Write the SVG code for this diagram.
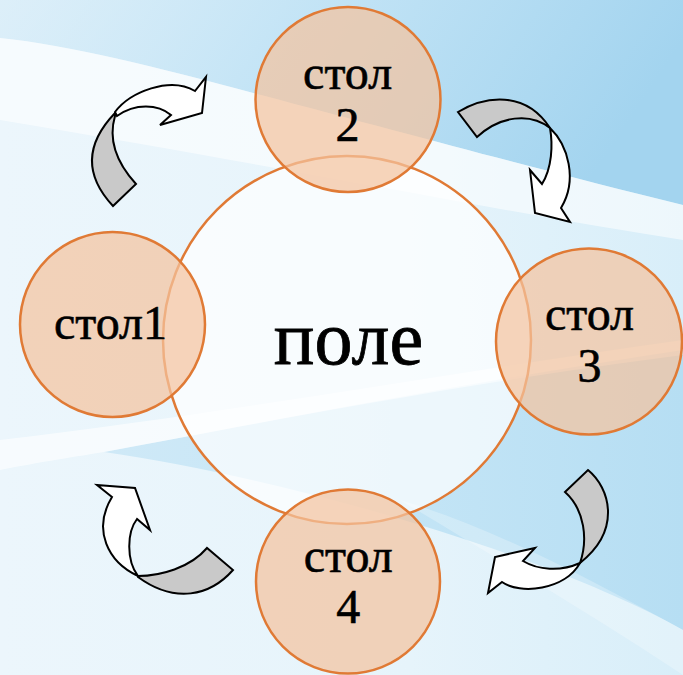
<svg xmlns="http://www.w3.org/2000/svg" width="683" height="675" viewBox="0 0 683 675">
  <defs>
    <linearGradient id="bg" x1="0" y1="0" x2="1" y2="0">
      <stop offset="0" stop-color="#ecf6fc"/>
      <stop offset="0.6" stop-color="#e6f4fb"/>
      <stop offset="1" stop-color="#d8eef9"/>
    </linearGradient>
    <linearGradient id="topblue" x1="0" y1="0" x2="1" y2="0.2">
      <stop offset="0" stop-color="#d2eaf7" stop-opacity="0.6"/>
      <stop offset="0.45" stop-color="#bfe2f5" stop-opacity="0.9"/>
      <stop offset="1" stop-color="#a3d4ef"/>
    </linearGradient>
    <linearGradient id="wedge" x1="0" y1="0" x2="1" y2="0">
      <stop offset="0" stop-color="#cfe9f7"/>
      <stop offset="0.5" stop-color="#c4e5f6"/>
      <stop offset="1" stop-color="#b6def3"/>
    </linearGradient>
  </defs>
  <style>
    .tbl { fill: #f4c3a0; fill-opacity: 0.72; stroke: #e07a35; stroke-width: 2.5; }
    .field { fill: #ffffff; fill-opacity: 0.7; stroke: #e07a35; stroke-width: 2.5; }
    .lbl { font-family: "Liberation Serif", "Times New Roman", serif; font-size: 48px; fill: #000; stroke: #000; stroke-width: 0.6; text-anchor: middle; }
    .big { font-size: 76px; stroke-width: 0.8; }
    .g { fill: #c9c9c9; stroke: #000; stroke-width: 2; stroke-linejoin: miter; }
    .w { fill: #ffffff; stroke: #000; stroke-width: 2; stroke-linejoin: miter; }
  </style>

  <!-- background -->
  <rect x="0" y="0" width="683" height="675" fill="url(#bg)"/>
  <path d="M0,0 L683,0 L683,205 C560,175 430,140 261,95 C160,68 70,45 0,38 Z" fill="url(#topblue)"/>
  <path d="M0,38 C70,45 160,68 261,95 C430,140 560,175 683,205 L683,240 C520,215 300,170 0,120 Z" fill="#ffffff" fill-opacity="0.55"/>
  <path d="M104,452 C250,425 450,385 683,355 L683,630 C560,560 300,480 104,452 Z" fill="url(#wedge)"/>
  <path d="M0,470 C40,462 80,456 104,452 C250,425 450,385 683,350 L683,340 C450,372 250,410 0,440 Z" fill="#ffffff" fill-opacity="0.6"/>
  <path d="M683,630 C600,585 500,530 400,500 C500,560 600,620 683,675 Z" fill="#ffffff" fill-opacity="0.25"/>

  <g id="node-pole">
    <circle class="field" cx="347" cy="340" r="184"/>
    <text class="lbl big" x="348.5" y="364">поле</text>
  </g>

  <g id="node-stol1">
    <circle class="tbl" cx="112.5" cy="324.5" r="92.5"/>
    <text class="lbl" x="110.5" y="339">стол1</text>
  </g>

  <g id="node-stol2">
    <circle class="tbl" cx="348" cy="99.5" r="92.5"/>
    <text class="lbl" x="347.6" y="89">стол</text>
    <text class="lbl" x="347.6" y="141">2</text>
  </g>

  <g id="node-stol3">
    <circle class="tbl" cx="589" cy="341.5" r="93"/>
    <text class="lbl" x="589.5" y="330">стол</text>
    <text class="lbl" x="589.5" y="381.5">3</text>
  </g>

  <g id="node-stol4">
    <circle class="tbl" cx="348" cy="581.5" r="92"/>
    <text class="lbl" x="348.3" y="572">стол</text>
    <text class="lbl" x="348.3" y="623">4</text>
  </g>

  <g id="connectors">
    <!-- стол1 -> стол2 -->
    <g id="arrow-1-2">
      <path class="g" d="M115,113 Q70,160 113,206 L136,184 Q105,150 115,116 Z"/>
      <path class="w" d="M115,112 C130,92 170,76 195,91 L206,77 L202,113 L160,125 L171,115 C158,104 135,103 117,116 Z"/>
    </g>
    <!-- стол2 -> стол3 -->
    <g id="arrow-2-3">
      <path class="g" d="M458,112 C485,96 525,90 550,128 C530,112 500,116 477,137 Z"/>
      <path class="w" d="M550,128 C568,145 578,180 561,208 L570,222 L535,213 L530,170 L542,184 C552,168 553,145 550,128 Z"/>
    </g>
    <!-- стол3 -> стол4 -->
    <g id="arrow-3-4">
      <path class="g" d="M588,470 C610,488 622,530 580,563 C588,540 585,510 565,492 Z"/>
      <path class="w" d="M580,563 C565,590 520,595 502,582 L488,593 L495,557 L535,548 L523,561 C538,570 560,572 580,563 Z"/>
    </g>
    <!-- стол4 -> стол1 -->
    <g id="arrow-4-1">
      <path class="g" d="M138,576 C160,576 190,568 207,548 L233,570 C210,596 175,604 138,577 Z"/>
      <path class="w" d="M112,497 L97,485 L135,488 L150,530 L137,519 C127,532 126,560 138,576 C108,562 92,530 112,497 Z"/>
    </g>
  </g>
</svg>
